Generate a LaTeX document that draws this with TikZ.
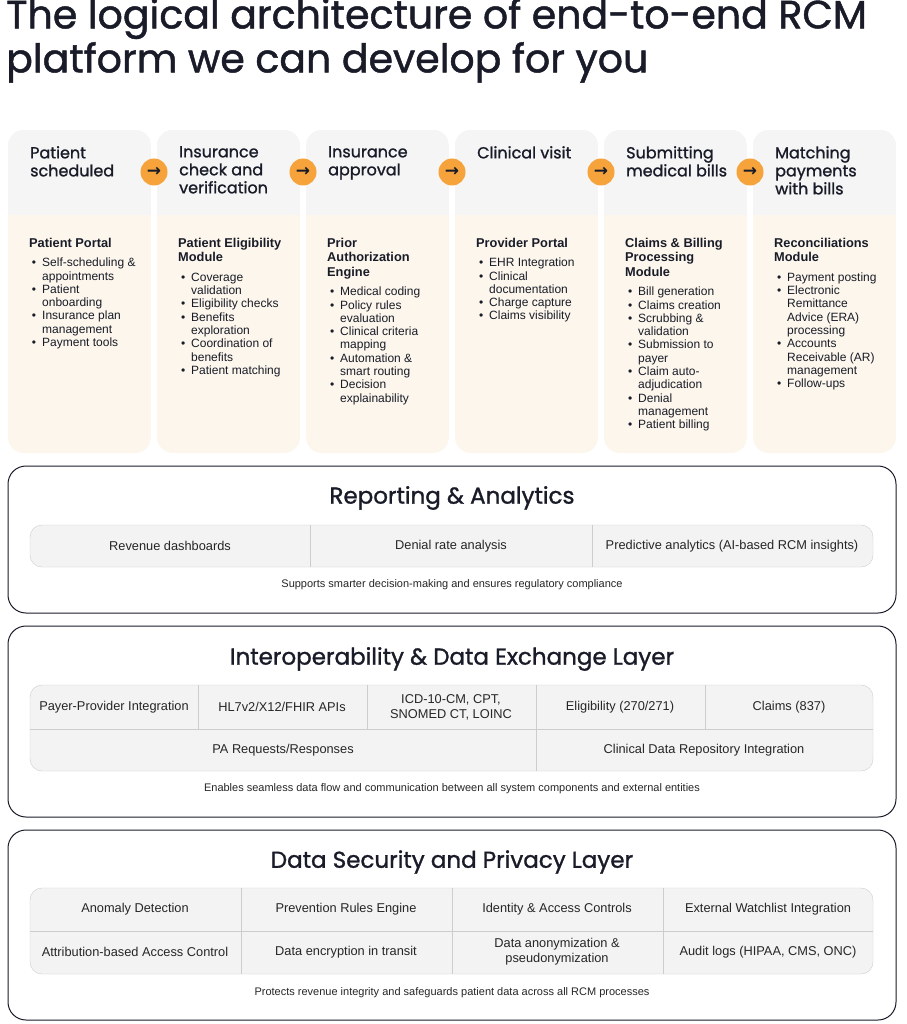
\documentclass[tikz,border=0pt]{standalone}
\usepackage{fontspec}
\setmainfont{Liberation Sans}
\newfontfamily\headfont{Poppins}[FakeBold=1.2]
\newfontfamily\arrowfont{DejaVu Sans}
\usepackage{enumitem}
\usetikzlibrary{positioning,calc}
\definecolor{cardtop}{RGB}{244,245,244}
\definecolor{cardbody}{RGB}{252,246,236}
\definecolor{stepdot}{RGB}{245,163,58}
\definecolor{cellfill}{RGB}{243,243,243}
\definecolor{cellline}{RGB}{205,205,205}
\definecolor{inktext}{RGB}{25,28,40}
\setlist[itemize]{leftmargin=13pt,labelsep=6pt,itemsep=0pt,parsep=0pt,topsep=4pt,label=\textbullet}
\newcommand{\cardbody}[2]{{\bfseries\fontsize{12.8}{14.5}\selectfont #1\par}\begin{itemize}#2\end{itemize}}

\begin{document}
\begin{tikzpicture}[x=1pt,y=-1pt,
    steptitle/.style={anchor=north west, align=left, font=\headfont\fontsize{16}{18}\selectfont, text=inktext, inner sep=0},
    stepbody/.style={anchor=north west, text width=110pt, align=flush left, font=\fontsize{12}{13.3}\selectfont, text=inktext, inner sep=0},
    stepdot/.style={circle, fill=stepdot, minimum size=27pt, inner sep=0, font=\arrowfont\bfseries\fontsize{17}{17}\selectfont, text=inktext},
    layerbox/.style={draw=inktext, line width=1pt, rounded corners=18pt},
    layertitle/.style={font=\headfont\fontsize{23}{25}\selectfont, text=inktext},
    cell/.style={font=\fontsize{12.8}{15}\selectfont, align=center, text=black!85},
    note/.style={font=\fontsize{11}{12}\selectfont, text=black!85}
]
\useasboundingbox (0,0) rectangle (906,1024);
\fill[white] (0,0) rectangle (906,1024);

% title
\node[anchor=north west, align=left, inner sep=0, font=\headfont\fontsize{39.5}{44}\selectfont, text=inktext]
  (title) at (6,-2) {The logical architecture of end-to-end RCM\\platform we can develop for you};

% cards
\foreach \cx in {8,157,306,455,604,753}{
  \begin{scope}
    \clip[rounded corners=16pt] (\cx,130) rectangle ++(143,323);
    \fill[cardbody] (\cx,130) rectangle ++(143,323);
    \fill[cardtop] (\cx,130) rectangle ++(143,85);
  \end{scope}
}
\node[steptitle] (s1) at (30,146) {Patient\\scheduled};
\node[steptitle] (s2) at (179,146) {Insurance\\check and\\verification};
\node[steptitle] (s3) at (328,146) {Insurance\\approval};
\node[steptitle] (s4) at (477,146) {Clinical visit};
\node[steptitle] (s5) at (626,146) {Submitting\\medical bills};
\node[steptitle] (s6) at (775,146) {Matching\\payments\\with bills};

\foreach \dx in {154,303,452,601,750}{
  \node[stepdot] at (\dx,172) {→};
}

\node[stepbody] (b1) at (29,238) {\cardbody{Patient Portal}{\item Self-scheduling \& appointments \item Patient onboarding \item Insurance plan management \item Payment tools}};
\node[stepbody] (b2) at (178,238) {\cardbody{Patient Eligibility\\Module}{\item Coverage validation \item Eligibility checks \item Benefits exploration \item Coordination of benefits \item Patient matching}};
\node[stepbody] (b3) at (327,238) {\cardbody{Prior\\Authorization\\Engine}{\item Medical coding \item Policy rules evaluation \item Clinical criteria mapping \item Automation \& smart routing \item Decision explainability}};
\node[stepbody] (b4) at (476,238) {\cardbody{Provider Portal}{\item EHR Integration \item Clinical documentation \item Charge capture \item Claims visibility}};
\node[stepbody] (b5) at (625,238) {\cardbody{Claims \& Billing\\Processing\\Module}{\item Bill generation \item Claims creation \item Scrubbing \& validation \item Submission to payer \item Claim auto-\\adjudication \item Denial management \item Patient billing}};
\node[stepbody] (b6) at (774,238) {\cardbody{Reconciliations\\Module}{\item Payment posting \item Electronic Remittance Advice (ERA) processing \item Accounts Receivable (AR) management \item Follow-ups}};

% reporting layer
\draw[layerbox] (8,466) rectangle (896,613);
\node[layertitle] (rep) at (452,498) {Reporting \& Analytics};
\filldraw[fill=cellfill, draw=cellline, rounded corners=12pt] (30,525) rectangle (873,567);
\draw[cellline] (310,525) -- (310,567) (592,525) -- (592,567);
\node[cell] (r1) at (170,546) {Revenue dashboards};
\node[cell] (r2) at (451,546) {Denial rate analysis};
\node[cell] (r3) at (732,546) {Predictive analytics (AI-based RCM insights)};
\node[note] (repnote) at (452,585) {Supports smarter decision-making and ensures regulatory compliance};

% interoperability layer
\draw[layerbox] (8,626) rectangle (896,817);
\node[layertitle] (iop) at (452,659) {Interoperability \& Data Exchange Layer};
\filldraw[fill=cellfill, draw=cellline, rounded corners=12pt] (30,685) rectangle (873,771);
\draw[cellline] (30,729) -- (873,729);
\draw[cellline] (198,685) -- (198,729) (367,685) -- (367,729) (536,685) -- (536,771) (705,685) -- (705,729);
\node[cell] (i1) at (114,707) {Payer-Provider Integration};
\node[cell] (i2) at (282,707) {HL7v2/X12/FHIR APIs};
\node[cell] (i3) at (451,707) {ICD-10-CM, CPT,\\SNOMED CT, LOINC};
\node[cell] (i4) at (620,707) {Eligibility (270/271)};
\node[cell] (i5) at (789,707) {Claims (837)};
\node[cell] (i6) at (283,750) {PA Requests/Responses};
\node[cell] (i7) at (704,750) {Clinical Data Repository Integration};
\node[note] (iopnote) at (452,789) {Enables seamless data flow and communication between all system components and external entities};

% security layer
\draw[layerbox] (8,830) rectangle (896,1020);
\node[layertitle] (sec) at (452,862) {Data Security and Privacy Layer};
\filldraw[fill=cellfill, draw=cellline, rounded corners=12pt] (30,888) rectangle (873,974);
\draw[cellline] (30,931) -- (873,931);
\draw[cellline] (241,888) -- (241,974) (452,888) -- (452,974) (663,888) -- (663,974);
\node[cell] (d1) at (135,909) {Anomaly Detection};
\node[cell] (d2) at (346,909) {Prevention Rules Engine};
\node[cell] (d3) at (557,909) {Identity \& Access Controls};
\node[cell] (d4) at (768,909) {External Watchlist Integration};
\node[cell] (d5) at (135,952) {Attribution-based Access Control};
\node[cell] (d6) at (346,952) {Data encryption in transit};
\node[cell] (d7) at (557,952) {Data anonymization \&\\pseudonymization};
\node[cell] (d8) at (768,952) {Audit logs (HIPAA, CMS, ONC)};
\node[note] (secnote) at (452,993) {Protects revenue integrity and safeguards patient data across all RCM processes};

\end{tikzpicture}
\end{document}
